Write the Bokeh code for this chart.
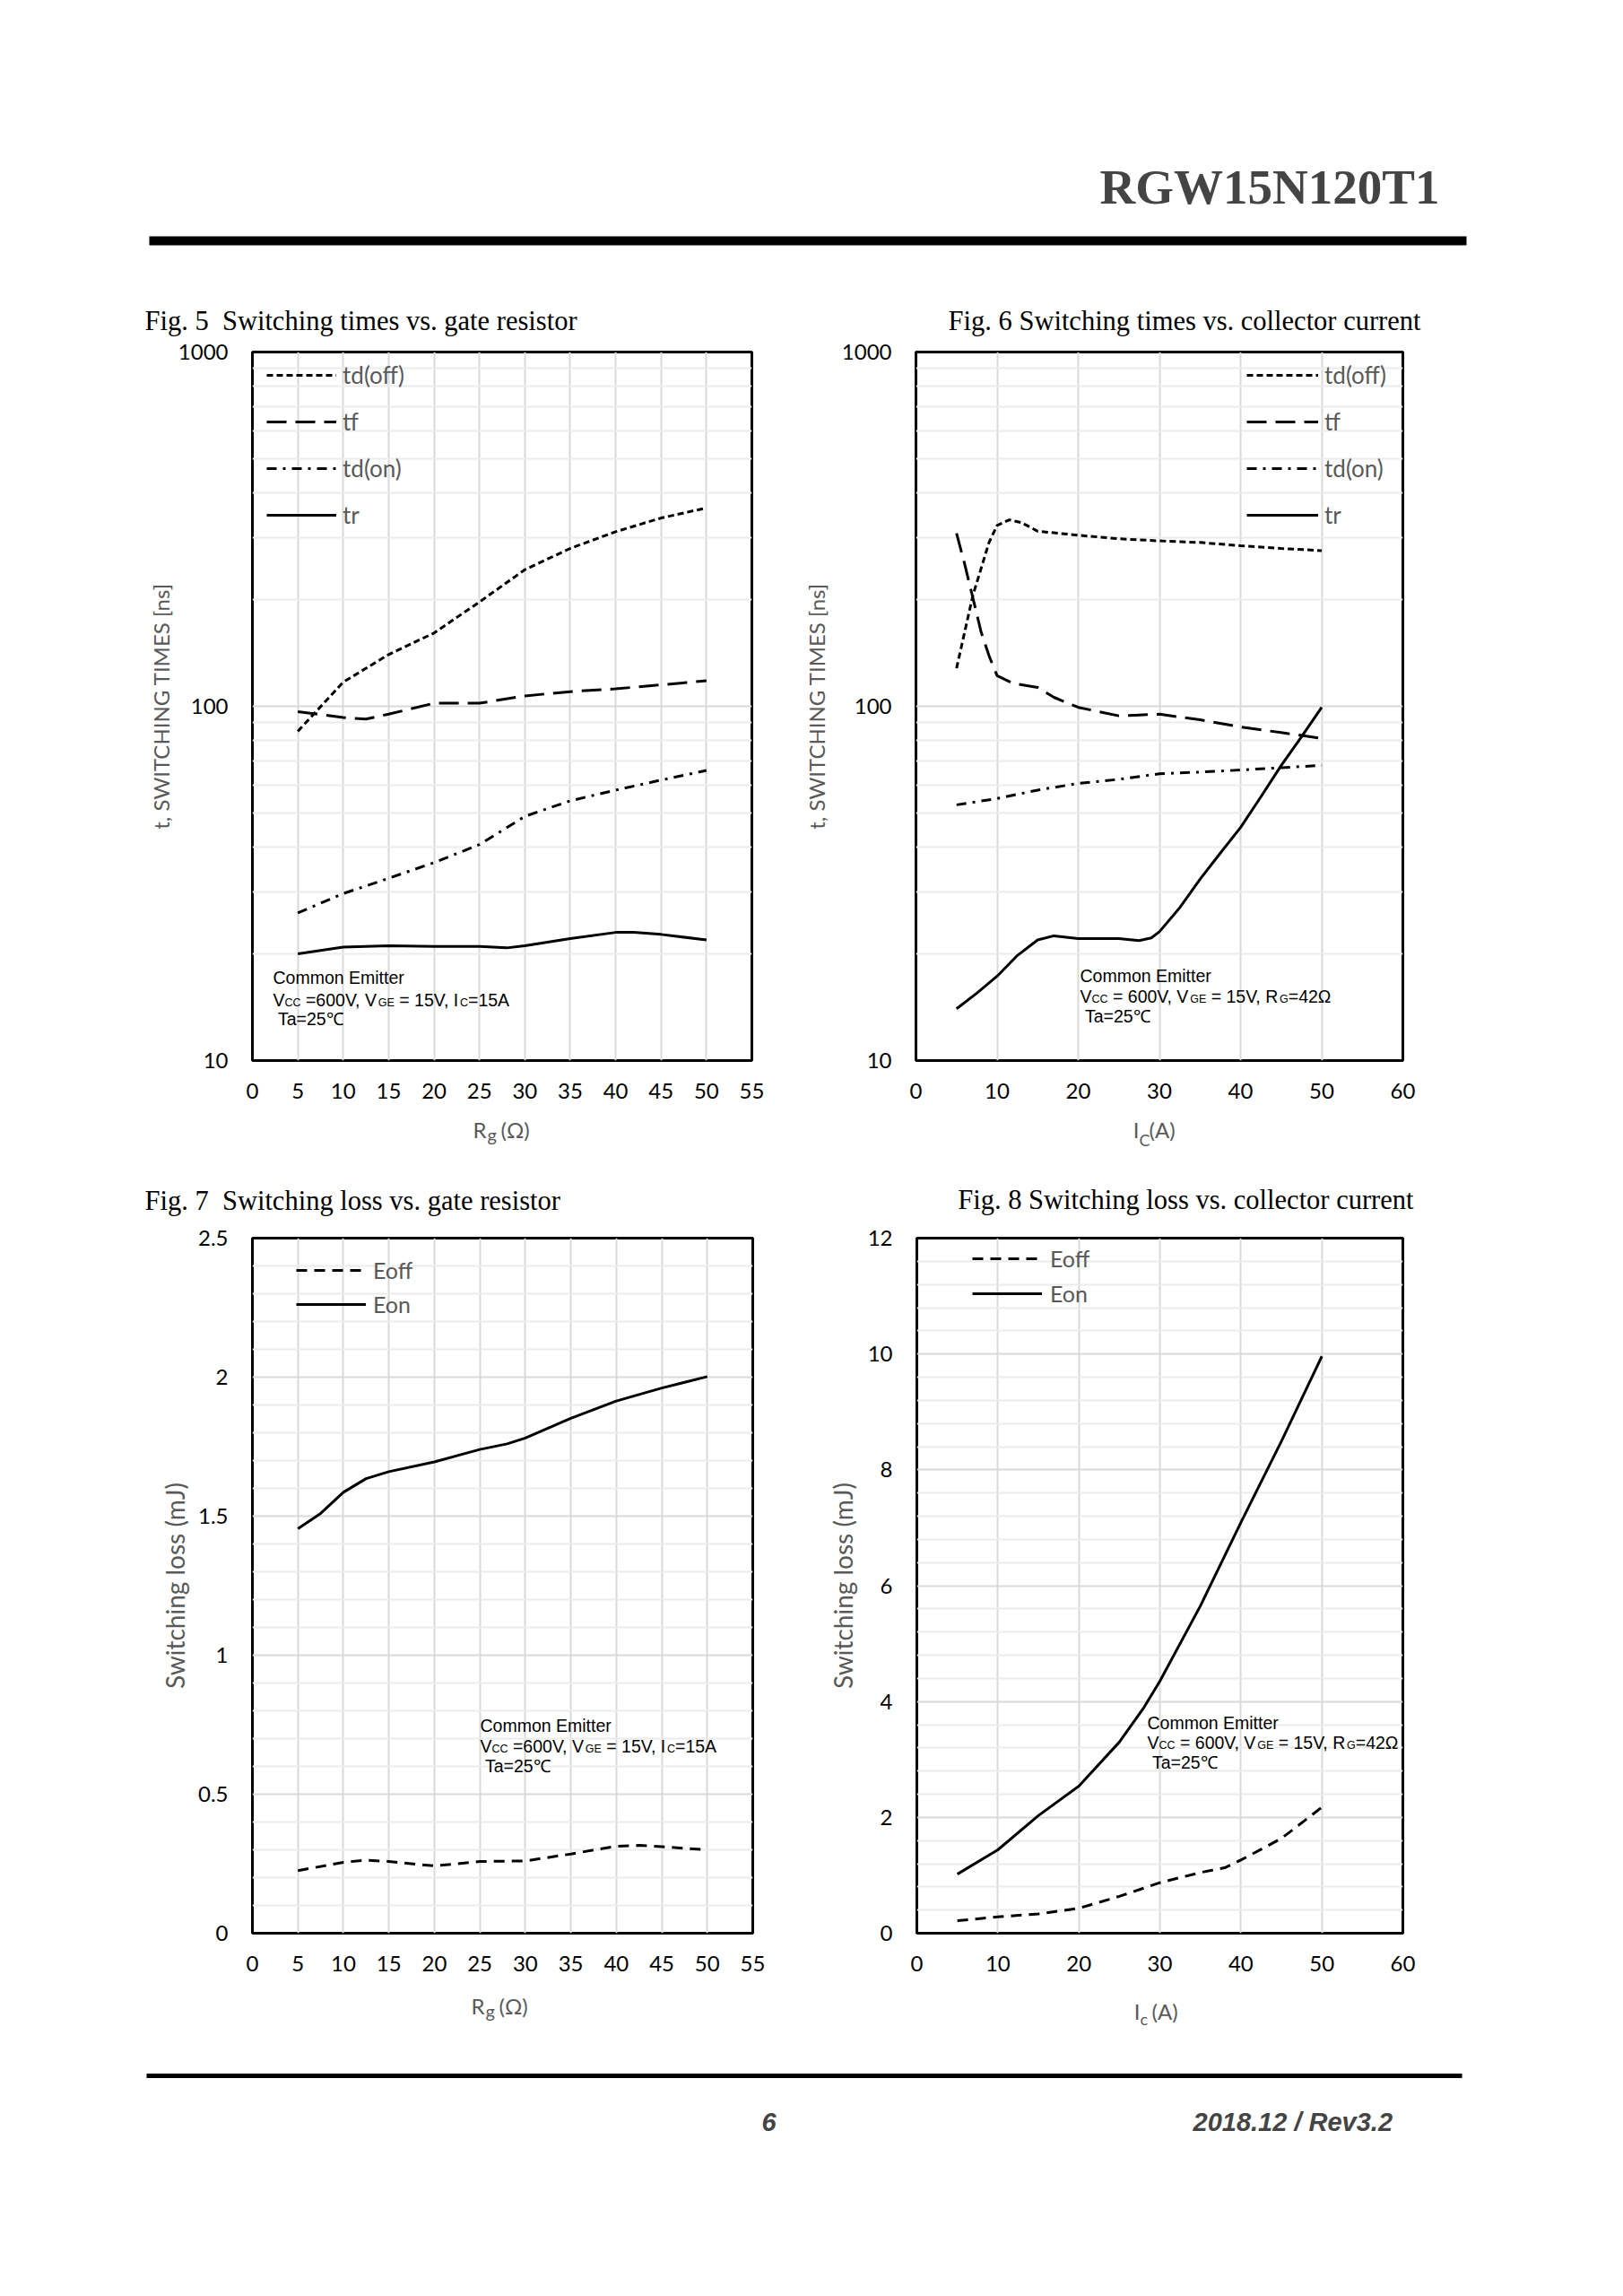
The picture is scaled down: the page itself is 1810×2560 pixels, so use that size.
import math
from bokeh.plotting import figure
from bokeh.models import (Range1d, FixedTicker, Label, Legend, LegendItem,
                          BoxAnnotation, BasicTickFormatter, Title)
from bokeh.layouts import column, row
from bokeh.embed import file_html
from bokeh.resources import INLINE

# ---------------- data ----------------
# Fig.5  switching times vs. gate resistor
f5_tdoff_x = [5, 10, 15, 20, 25, 30, 35, 40, 45, 50]
f5_tdoff_y = [85, 117, 140, 161, 197, 243, 279, 311, 340, 363]
f5_tf_x = [5, 10, 12.5, 15, 20, 25, 30, 35, 40, 45, 50]
f5_tf_y = [96.5, 93, 92, 95, 102, 102, 107, 110, 112, 115, 118]
f5_tdon_x = [5, 10, 15, 20, 25, 30, 35, 40, 45, 50]
f5_tdon_y = [26.1, 29.6, 32.7, 36.2, 40.7, 48.9, 54.1, 58.0, 61.9, 65.9]
f5_tr_x = [5, 10, 15, 20, 25, 28, 30, 35, 40, 42, 45, 50]
f5_tr_y = [20.0, 20.9, 21.1, 21.0, 21.0, 20.8, 21.1, 22.1, 23.0, 23.0, 22.7, 21.9]

# Fig.6  switching times vs. collector current
f6_tdoff_x = [5, 7, 9, 10, 11.5, 13, 15, 20, 25, 30, 35, 40, 45, 50]
f6_tdoff_y = [128, 205, 290, 324, 336, 330, 312, 304, 297, 293, 290, 284, 279, 275]
f6_tf_x = [5, 6, 7, 8, 9, 10, 12, 15, 17, 20, 25, 30, 35, 40, 45, 50]
f6_tf_y = [308, 252, 203, 163, 139, 122, 116, 113, 106, 99.3, 94, 95, 91.6, 87.4, 84.3, 81.2]
f6_tdon_x = [5, 10, 15, 20, 25, 30, 35, 40, 45, 50]
f6_tdon_y = [52.7, 54.9, 58.0, 60.6, 62.2, 64.5, 65.2, 66.1, 67.1, 68.1]
f6_tr_x = [5, 7.5, 10, 12.5, 15, 17, 20, 25, 27.5, 29, 30, 32.5, 35, 37.5, 40, 42.5, 45, 47.5, 50]
f6_tr_y = [14.0, 15.5, 17.3, 19.8, 21.9, 22.5, 22.1, 22.1, 21.8, 22.2, 23.1, 27.0, 32.5, 38.5, 45.5, 55.5, 68.0, 82.0, 99.3]

# Fig.7  switching loss vs. gate resistor
f7_eoff_x = [5, 10, 12.5, 15, 20, 25, 30, 35, 40, 42.5, 45, 50]
f7_eoff_y = [0.225, 0.255, 0.263, 0.258, 0.242, 0.258, 0.260, 0.285, 0.313, 0.316, 0.311, 0.300]
f7_eon_x = [5, 7.5, 10, 12.5, 15, 20, 25, 28, 30, 35, 40, 45, 50]
f7_eon_y = [1.455, 1.51, 1.586, 1.635, 1.660, 1.695, 1.740, 1.760, 1.781, 1.852, 1.914, 1.961, 2.002]

# Fig.8  switching loss vs. collector current
f8_eoff_x = [5, 10, 15, 20, 25, 30, 35, 38, 40, 45, 50]
f8_eoff_y = [0.215, 0.284, 0.333, 0.431, 0.637, 0.872, 1.048, 1.13, 1.263, 1.636, 2.174]
f8_eon_x = [5, 10, 15, 20, 25, 28, 30, 35, 40, 45, 50]
f8_eon_y = [1.02, 1.44, 2.03, 2.54, 3.30, 3.89, 4.35, 5.65, 7.09, 8.49, 9.96]

# axis ticks / labels
x_ticks_rg = [0, 5, 10, 15, 20, 25, 30, 35, 40, 45, 50, 55]
x_ticks_ic = [0, 10, 20, 30, 40, 50, 60]
y_ticks_log = [10, 100, 1000]
y_minor_log = [20, 30, 40, 50, 60, 70, 80, 90, 200, 300, 400, 500, 600, 700, 800, 900]
y_ticks_f7 = [0, 0.5, 1, 1.5, 2, 2.5]
y_labels_f7 = ["0", "0.5", "1", "1.5", "2", "2.5"]
y_minor_f7 = [0.1, 0.2, 0.3, 0.4, 0.6, 0.7, 0.8, 0.9, 1.1, 1.2, 1.3, 1.4,
              1.6, 1.7, 1.8, 1.9, 2.1, 2.2, 2.3, 2.4]
y_ticks_f8 = [0, 2, 4, 6, 8, 10, 12]
y_minor_f8 = [0.4, 0.8, 1.2, 1.6, 2.4, 2.8, 3.2, 3.6, 4.4, 4.8, 5.2, 5.6, 6.4, 6.8,
              7.2, 7.6, 8.4, 8.8, 9.2, 9.6, 10.4, 10.8, 11.2, 11.6]

# ---------------- styling ----------------
GREY = "#595959"
GRID = "#d9d9d9"
MINOR = "#ececec"
TF = "Lato"
AF = "Liberation Sans"
SERIF = "Liberation Serif"
DASH_TDOFF = "7 4"
DASH_TF = "22 10"
DASH_TDON = "11 7 3 7"
DASH_EOFF = "12 8"
LW = 3
W = 1794
# distance (in em) from the alphabetic baseline up to the centre of the font box
MIDK = {AF: 0.3465, SERIF: 0.3375, TF: 0.387}

# Arial (Liberation Sans) advance widths, per 1000 em
AW = {' ': 278, ',': 278, '=': 584, 'A': 667, 'C': 722, 'E': 667, 'G': 778,
      'I': 278, 'R': 722, 'V': 667, '\u03a9': 768}
for d in "0123456789":
    AW[d] = 556


def text_w(s, size):
    return sum(AW.get(c, 556) for c in s) / 1000.0 * size


def add_label(p, x, y, text, size, font=AF, color="black", style="normal",
              align="left", units="screen"):
    """y is the wanted alphabetic baseline; the label is anchored at its middle."""
    p.add_layout(Label(x=x, y=y + MIDK[font] * size, x_units=units, y_units=units,
                       text=text, text_font=font, text_font_size=f"{size}px",
                       text_font_style=style, text_color=color,
                       text_align=align, text_baseline="middle"))


def rich_line(p, x0, y0, pieces, F=19.5, f=12.5, drop=1):
    x = x0
    for txt, sub in pieces:
        size = f if sub else F
        lead = len(txt) - len(txt.lstrip(" "))
        add_label(p, x + text_w(" " * lead, size), y0 - (drop if sub else 0),
                  txt.strip(" "), size)
        x += text_w(txt, size)


def strip(height):
    s = figure(width=W, height=height, x_range=Range1d(0, W), y_range=Range1d(0, height),
               toolbar_location=None, output_backend="svg", title=None,
               x_axis_type=None, y_axis_type=None, min_border=0)
    s.outline_line_color = None
    s.background_fill_color = "white"
    s.border_fill_color = "white"
    return s


def chart(width, height, bl, br, bt, bb, xmax, xticks, log, yticks, yminor,
          ylabel, ylabel_size, ylabel_standoff, title, t_align, t_offset, t_standoff,
          ymax=None, ylabels=None):
    kw = dict(width=width, height=height, toolbar_location=None,
              output_backend="svg", title=None, x_range=Range1d(0, xmax))
    if log:
        kw.update(y_axis_type="log", y_range=Range1d(10, 1000))
    else:
        kw.update(y_range=Range1d(0, ymax))
    p = figure(**kw)
    p.add_layout(Title(text=title, align=t_align, offset=t_offset, standoff=t_standoff,
                       text_font=SERIF, text_font_size="30.5px", text_font_style="normal",
                       text_color="black"), "above")
    p.min_border_left = bl
    p.min_border_right = br
    p.min_border_top = bt
    p.min_border_bottom = bb
    p.background_fill_color = "white"
    p.border_fill_color = "white"
    p.outline_line_color = "black"
    p.outline_line_width = 3
    xt = FixedTicker(ticks=xticks)
    yt = FixedTicker(ticks=yticks, minor_ticks=yminor)
    p.xaxis.ticker = xt
    p.yaxis.ticker = yt
    p.xgrid.ticker = xt
    p.ygrid.ticker = yt
    p.yaxis.formatter = BasicTickFormatter()
    if ylabels is not None:
        p.yaxis.major_label_overrides = {t: l for t, l in zip(yticks, ylabels)}
    else:
        p.yaxis.major_label_overrides = {t: str(t) for t in yticks}
    for ax in (p.xaxis, p.yaxis):
        ax.axis_line_color = None
        ax.major_tick_line_color = None
        ax.minor_tick_line_color = None
        ax.major_tick_out = 0
        ax.major_tick_in = 0
        ax.minor_tick_out = 0
        ax.major_label_text_font = TF
        ax.major_label_text_font_size = "24px"
        ax.major_label_text_color = "black"
    p.xaxis.major_label_standoff = 25
    p.yaxis.major_label_standoff = 27
    p.yaxis.axis_label = ylabel
    p.yaxis.axis_label_text_font = TF
    p.yaxis.axis_label_text_font_size = f"{ylabel_size}px"
    p.yaxis.axis_label_text_font_style = "normal"
    p.yaxis.axis_label_text_color = GREY
    p.yaxis.axis_label_standoff = ylabel_standoff
    p.xgrid.grid_line_color = GRID
    p.xgrid.grid_line_width = 2
    p.ygrid.grid_line_color = GRID
    p.ygrid.grid_line_width = 2
    p.ygrid.minor_grid_line_color = MINOR
    p.ygrid.minor_grid_line_width = 2
    return p


def legend(p, items, x, y, gw, standoff, size, lh, spacing):
    lg = Legend(items=[LegendItem(label=l, renderers=[r]) for l, r in items],
                location=(x, y), glyph_width=gw, glyph_height=lh,
                label_height=lh, spacing=spacing, padding=0, margin=0,
                label_standoff=standoff, border_line_color=None,
                background_fill_alpha=0, label_text_font=TF,
                label_text_font_size=f"{size}px", label_text_color=GREY)
    p.add_layout(lg)


# ---------------- header strip (page y 8..324) ----------------
head = strip(316)
head.add_layout(Label(x=1605, y=(324 - 235) + MIDK[SERIF] * 55, text="RGW15N120T1",
                      text_font=SERIF, text_font_style="bold", text_font_size="55px",
                      text_align="right", text_baseline="middle"))
head.add_layout(BoxAnnotation(left=166, right=1635, bottom=43, top=53,
                              fill_color="black", fill_alpha=1, line_color=None))

# ---------------- Fig 5 ----------------
p5 = chart(892, 924, 281, 54, 76, 58, 55, x_ticks_rg, True, y_ticks_log, y_minor_log,
           "t, SWITCHING TIMES [ns]", 24, 2,
           "Fig. 5\u00a0 Switching times vs. gate resistor", "left", -120, 36)
fh5 = 790
r1 = p5.line(f5_tdoff_x, f5_tdoff_y, line_color="black", line_width=LW, line_dash=DASH_TDOFF)
r2 = p5.line(f5_tf_x, f5_tf_y, line_color="black", line_width=LW, line_dash=DASH_TF)
r3 = p5.line(f5_tdon_x, f5_tdon_y, line_color="black", line_width=LW, line_dash=DASH_TDON)
r4 = p5.line(f5_tr_x, f5_tr_y, line_color="black", line_width=LW)
legend(p5, [("td(off)", r1), ("tf", r2), ("td(on)", r3), ("tr", r4)],
       16, fh5 - 10 - 188, 78, 7, 26, 32, 20)
add_label(p5, 23, 86, "Common Emitter", 19.5)
rich_line(p5, 23, 61, [("V", False), ("CC", True), (" =600V, V", False), ("GE", True),
                       (" = 15V, I", False), ("C", True), ("=15A", False)])
add_label(p5, 23 + text_w(" ", 19.5), 40, "Ta=25\u2103", 19.5)

# ---------------- Fig 6 ----------------
p6 = chart(902, 924, 123, 230, 76, 58, 60, x_ticks_ic, True, y_ticks_log, y_minor_log,
           "t, SWITCHING TIMES [ns]", 24, 11,
           "Fig. 6 Switching times vs. collector current", "right", -20, 36)
fh6 = 790
s1 = p6.line(f6_tdoff_x, f6_tdoff_y, line_color="black", line_width=LW, line_dash=DASH_TDOFF)
s2 = p6.line(f6_tf_x, f6_tf_y, line_color="black", line_width=LW, line_dash=DASH_TF)
s3 = p6.line(f6_tdon_x, f6_tdon_y, line_color="black", line_width=LW, line_dash=DASH_TDON)
s4 = p6.line(f6_tr_x, f6_tr_y, line_color="black", line_width=LW)
legend(p6, [("td(off)", s1), ("tf", s2), ("td(on)", s3), ("tr", s4)],
       369, fh6 - 10 - 188, 80, 7, 26, 32, 20)
add_label(p6, 183, 88, "Common Emitter", 19.5)
rich_line(p6, 183, 65, [("V", False), ("CC", True), (" = 600V, V", False), ("GE", True),
                        (" = 15V, R", False), ("G", True), ("=42\u03a9", False)])
add_label(p6, 183 + text_w(" ", 19.5), 43, "Ta=25\u2103", 19.5)

# ---------------- middle strip (page y 1248..1295): x-axis titles ----------------
mid = strip(47)
add_label(mid, 542, 1295 - 1276, "R", 24, font=TF, color=GREY, align="right", units="data")
add_label(mid, 543, 1295 - 1280, "g", 20, font=TF, color=GREY, units="data")
add_label(mid, 558, 1295 - 1276, "(\u03a9)", 24, font=TF, color=GREY, units="data")
add_label(mid, 1270, 1295 - 1276, "I", 24, font=TF, color=GREY, align="right", units="data")
add_label(mid, 1270, 1295 - 1285, "C", 18, font=TF, color=GREY, units="data")
add_label(mid, 1281, 1295 - 1276, "(A)", 24, font=TF, color=GREY, units="data")

# ---------------- Fig 7 ----------------
p7 = chart(892, 931, 281, 53, 90, 63, 55, x_ticks_rg, False, y_ticks_f7, y_minor_f7,
           "Switching loss (mJ)", 28, 6,
           "Fig. 7\u00a0 Switching loss vs. gate resistor", "left", -120, 49,
           ymax=2.5, ylabels=y_labels_f7)
fh7 = 778
e1 = p7.line(f7_eoff_x, f7_eoff_y, line_color="black", line_width=LW, line_dash=DASH_EOFF)
e2 = p7.line(f7_eon_x, f7_eon_y, line_color="black", line_width=LW)
legend(p7, [("Eoff", e1), ("Eon", e2)], 49, fh7 - 23 - 70, 78, 8, 25, 32, 6)
add_label(p7, 254, 225, "Common Emitter", 19.5)
rich_line(p7, 254, 202, [("V", False), ("CC", True), (" =600V, V", False), ("GE", True),
                         (" = 15V, I", False), ("C", True), ("=15A", False)])
add_label(p7, 254 + text_w(" ", 19.5), 180, "Ta=25\u2103", 19.5)

# ---------------- Fig 8 ----------------
p8 = chart(902, 931, 130, 230, 93, 57, 60, x_ticks_ic, False, y_ticks_f8, y_minor_f8,
           "Switching loss (mJ)", 28, 8,
           "Fig. 8 Switching loss vs. collector current", "right", -12, 51, ymax=12)
fh8 = 781
g1 = p8.line(f8_eoff_x, f8_eoff_y, line_color="black", line_width=LW, line_dash=DASH_EOFF)
g2 = p8.line(f8_eon_x, f8_eon_y, line_color="black", line_width=LW)
legend(p8, [("Eoff", g1), ("Eon", g2)], 62, fh8 - 13 - 71, 78, 9, 25, 32, 7)
add_label(p8, 257, 228, "Common Emitter", 19.5)
rich_line(p8, 257, 206, [("V", False), ("CC", True), (" = 600V, V", False), ("GE", True),
                         (" = 15V, R", False), ("G", True), ("=42\u03a9", False)])
add_label(p8, 257 + text_w(" ", 19.5), 184, "Ta=25\u2103", 19.5)

# ---------------- footer strip (page y 2226..2552) ----------------
foot = strip(326)
add_label(foot, 540, 2552 - 2253, "R", 24, font=TF, color=GREY, align="right", units="data")
add_label(foot, 541, 2552 - 2257, "g", 20, font=TF, color=GREY, units="data")
add_label(foot, 556, 2552 - 2253, "(\u03a9)", 24, font=TF, color=GREY, units="data")
add_label(foot, 1271, 2552 - 2259, "I", 24, font=TF, color=GREY, align="right", units="data")
add_label(foot, 1271, 2552 - 2265, "c", 18, font=TF, color=GREY, units="data")
add_label(foot, 1284, 2552 - 2259, "(A)", 24, font=TF, color=GREY, units="data")
foot.add_layout(BoxAnnotation(left=163, right=1630, bottom=2552 - 2324.5, top=2552 - 2319.5,
                              fill_color="black", fill_alpha=1, line_color=None))
foot.add_layout(Label(x=857, y=2552 - 2373, text="6", text_font=AF,
                      text_font_style="bold italic", text_font_size="29px",
                      text_align="center", text_baseline="middle"))
foot.add_layout(Label(x=1330, y=2552 - 2373, text="2018.12 / Rev3.2", text_font=AF,
                      text_font_style="bold italic", text_font_size="29px",
                      text_align="left", text_baseline="middle"))

page = column(head, row(p5, p6), mid, row(p7, p8), foot)
open("out.html", "w").write(file_html(page, INLINE))
